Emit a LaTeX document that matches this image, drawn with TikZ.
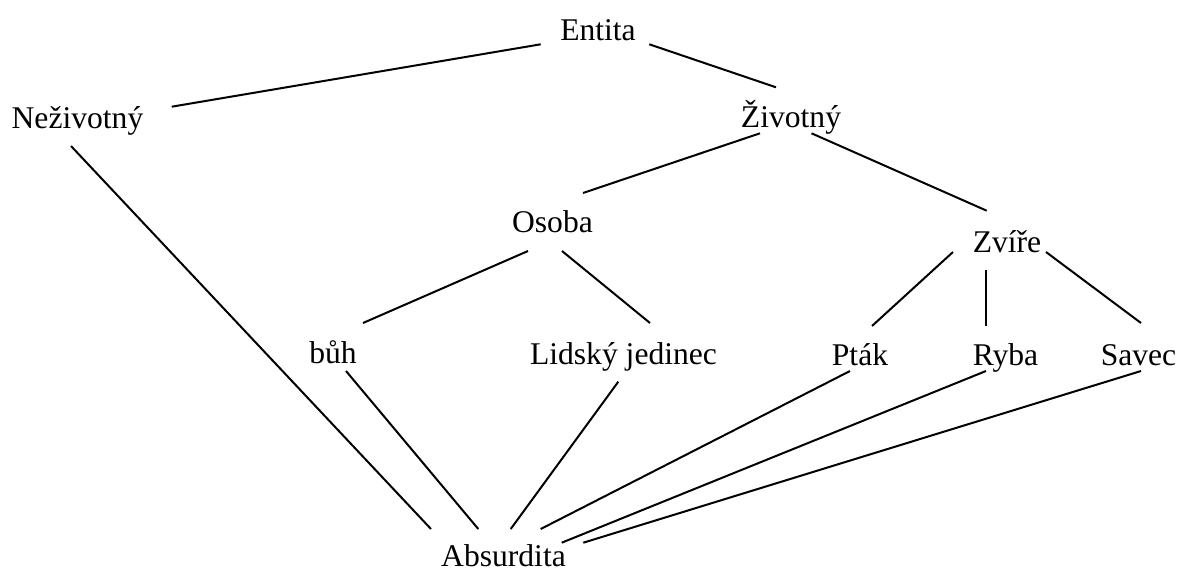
\documentclass[tikz,border=0pt]{standalone}
\usepackage{fontspec}
\setmainfont{Liberation Serif}
\usetikzlibrary{calc}
\tikzset{
  term/.style={inner sep=0pt, anchor=base, font=\fontsize{31.6}{38}\selectfont},
  link/.style={line width=2pt, black},
}
\begin{document}
\begin{tikzpicture}[x=1pt, y=-1pt]
  \useasboundingbox (0,0) rectangle (1179,568);

  % concepts, placed by baseline
  \node[term] (entita)    at (598,40)     {Entita};
  \node[term] (nezivotny) at (77.5,128.3) {Neživotný};
  \node[term] (zivotny)   at (791,127)    {Životný};
  \node[term] (osoba)     at (552.5,232)  {Osoba};
  \node[term] (zvire)     at (1007,252)   {Zvíře};
  \node[term] (buh)       at (333,363)    {bůh};
  \node[term] (lidsky)    at (623.5,364)  {Lidský jedinec};
  \node[term] (ptak)      at (860,365)    {Pták};
  \node[term] (ryba)      at (1005.5,365) {Ryba};
  \node[term] (savec)     at (1138.5,365) {Savec};
  \node[term] (absurdita) at (503.5,566)  {Absurdita};

  % subsumption links
  \draw[link] ($(entita.base)+(-57.3,4.3)$) -- ($(nezivotny.base)+(94.2,-21.6)$);
  \draw[link] ($(entita.base)+(51.3,4.3)$) -- ($(zivotny.base)+(-15,-39.7)$);
  \draw[link] ($(zivotny.base)+(-31,6.3)$) -- ($(osoba.base)+(30.5,-39)$);
  \draw[link] ($(zivotny.base)+(20.5,6.3)$) -- ($(zvire.base)+(-20.3,-41.3)$);
  \draw[link] ($(osoba.base)+(-24.5,19)$) -- ($(buh.base)+(30,-40)$);
  \draw[link] ($(osoba.base)+(9.5,19)$) -- ($(lidsky.base)+(26.5,-41)$);
  \draw[link] ($(zvire.base)+(-54,0)$) -- ($(ptak.base)+(12,-39)$);
  \draw[link] ($(zvire.base)+(-21,18)$) -- ($(ryba.base)+(-19.5,-39)$);
  \draw[link] ($(zvire.base)+(39,0)$) -- ($(savec.base)+(2.5,-42)$);

  % links to the bottom element
  \draw[link] ($(nezivotny.base)+(-6.5,17.7)$) -- ($(absurdita.base)+(-72.5,-37)$);
  \draw[link] ($(buh.base)+(13,8)$) -- ($(absurdita.base)+(-25.2,-37)$);
  \draw[link] ($(lidsky.base)+(-5.2,17.7)$) -- ($(absurdita.base)+(7.2,-37)$);
  \draw[link] ($(ptak.base)+(-10,6)$) -- ($(absurdita.base)+(37.2,-37)$);
  \draw[link] ($(ryba.base)+(-19.5,6)$) -- ($(absurdita.base)+(58.2,-23.3)$);
  \draw[link] ($(savec.base)+(2.5,6)$) -- ($(absurdita.base)+(79.8,-23.3)$);
\end{tikzpicture}
\end{document}
